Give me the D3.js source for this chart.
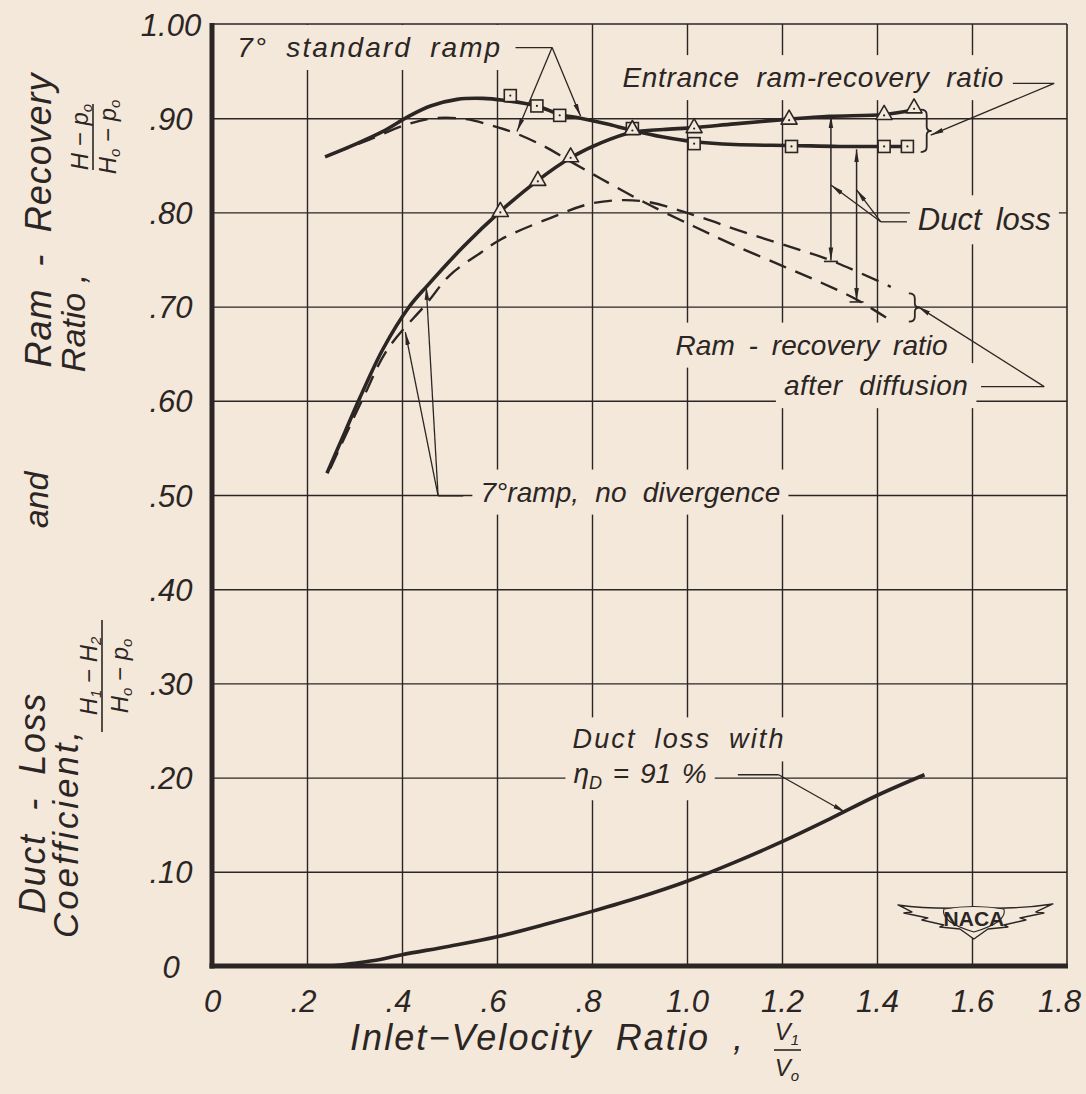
<!DOCTYPE html>
<html><head><meta charset="utf-8">
<script src="https://cdn.jsdelivr.net/npm/d3@7"></script>
<style>
html,body{margin:0;padding:0;background:#f4e8da;}
svg{display:block;}
text{font-family:"Liberation Sans", Arial, sans-serif; font-style:italic; fill:#2b2624;}
</style></head><body><svg id="c" width="1086" height="1094"></svg>
<script>
// ---------- axis ticks ----------
const xTickValues = [0, 0.2, 0.4, 0.6, 0.8, 1.0, 1.2, 1.4, 1.6, 1.8];
const xTickLabels = ["0", ".2", ".4", ".6", ".8", "1.0", "1.2", "1.4", "1.6", "1.8"];
const yTickValues = [0, 0.1, 0.2, 0.3, 0.4, 0.5, 0.6, 0.7, 0.8, 0.9, 1.0];
const yTickLabels = ["0", ".10", ".20", ".30", ".40", ".50", ".60", ".70", ".80", ".90", "1.00"];

// ---------- series: 7° standard ramp, entrance ram-recovery ratio (solid, squares) ----------
const stdEntranceX = [0.238, 0.30, 0.36, 0.414, 0.46, 0.516, 0.57, 0.614, 0.684, 0.732, 0.776, 0.83, 0.885, 0.95, 1.015, 1.10, 1.22, 1.32, 1.415, 1.464];
const stdEntranceY = [0.859, 0.872, 0.886, 0.902, 0.913, 0.920, 0.921, 0.919, 0.913, 0.904, 0.900, 0.894, 0.887, 0.880, 0.875, 0.872, 0.871, 0.870, 0.870, 0.870];
const stdSquareX = [0.628, 0.684, 0.732, 0.885, 1.015, 1.220, 1.415, 1.464];
const stdSquareY = [0.924, 0.913, 0.903, 0.889, 0.873, 0.870, 0.870, 0.870];

// ---------- series: 7° ramp, no divergence, entrance ram-recovery ratio (solid, triangles) ----------
const noDivEntranceX = [0.242, 0.28, 0.312, 0.36, 0.414, 0.453, 0.53, 0.607, 0.686, 0.755, 0.82, 0.885, 0.95, 1.015, 1.10, 1.215, 1.30, 1.415, 1.478];
const noDivEntranceY = [0.523, 0.567, 0.604, 0.655, 0.699, 0.722, 0.764, 0.801, 0.834, 0.858, 0.874, 0.885, 0.888, 0.890, 0.894, 0.899, 0.902, 0.904, 0.909];
const noDivTriangleX = [0.607, 0.686, 0.755, 0.885, 1.015, 1.215, 1.415, 1.478];
const noDivTriangleY = [0.801, 0.834, 0.859, 0.888, 0.890, 0.899, 0.904, 0.911];

// ---------- series: ram-recovery ratio after diffusion (dashed) ----------
const stdDiffusedX = [0.253, 0.33, 0.414, 0.47, 0.535, 0.59, 0.639, 0.70, 0.748, 0.818, 0.909, 1.015, 1.10, 1.197, 1.28, 1.359, 1.429];
const stdDiffusedY = [0.862, 0.877, 0.894, 0.900, 0.899, 0.892, 0.884, 0.870, 0.856, 0.836, 0.811, 0.785, 0.765, 0.744, 0.726, 0.707, 0.685];
const noDivDiffusedX = [0.249, 0.319, 0.37, 0.453, 0.50, 0.565, 0.607, 0.712, 0.804, 0.906, 1.015, 1.12, 1.239, 1.303, 1.429];
const noDivDiffusedY = [0.528, 0.604, 0.655, 0.704, 0.733, 0.757, 0.771, 0.794, 0.810, 0.812, 0.797, 0.779, 0.760, 0.749, 0.721];

// ---------- series: duct loss with eta_D = 91 % ----------
const ductLossX = [0.25, 0.30, 0.354, 0.40, 0.50, 0.60, 0.70, 0.80, 0.90, 1.00, 1.10, 1.20, 1.30, 1.40, 1.50];
const ductLossY = [0.000, 0.003, 0.007, 0.012, 0.021, 0.031, 0.044, 0.058, 0.073, 0.090, 0.110, 0.132, 0.156, 0.181, 0.203];

// ---------- duct-loss dimension arrows ----------
const dimX = [1.303, 1.357];
const dimTop = [0.903, 0.867];
const dimBottom = [0.749, 0.706];

// ---------- annotation texts (anchor in data units) ----------
const noteTexts = ["7° standard ramp", "Entrance ram-recovery ratio", "Duct loss", "Ram - recovery ratio", "after diffusion", "7°ramp, no divergence", "Duct loss with"];
const noteX = [0.053, 0.864, 1.486, 0.976, 1.204, 0.565, 0.759];
const noteY = [0.965, 0.933, 0.781, 0.649, 0.606, 0.493, 0.231];
const noteWidth = [263, 381, 133, 272, 184, 300, 211];
const noteSize = [28, 28, 31, 28, 28, 28, 27];

// ---------- leader lines (data units) ----------
const plainLeaders = [
  [[0.639, 0.975], [0.716, 0.975]],
  [[1.686, 0.937], [1.773, 0.937]],
  [[1.408, 0.790], [1.463, 0.790]],
  [[1.619, 0.615], [1.752, 0.615]],
  [[0.529, 0.499], [0.476, 0.499]],
  [[1.107, 0.203], [1.193, 0.203]]
];
const arrowLeaders = [
  [[0.716, 0.975], [0.642, 0.886]],
  [[0.716, 0.975], [0.776, 0.902]],
  [[1.773, 0.937], [1.513, 0.882]],
  [[1.408, 0.790], [1.303, 0.829]],
  [[1.408, 0.790], [1.357, 0.824]],
  [[1.752, 0.615], [1.486, 0.700]],
  [[0.476, 0.499], [0.407, 0.673]],
  [[0.476, 0.499], [0.451, 0.721]],
  [[1.193, 0.203], [1.334, 0.163]]
];
const braceX = [1.492, 1.467];
const braceTop = [0.909, 0.714];
const braceBottom = [0.864, 0.684];

// =====================================================
const ink = "#2b2624";
const paper = "#f4e8da";
const svg = d3.select("#c");
svg.append("rect").attr("width", 1086).attr("height", 1094).attr("fill", paper);

const x = d3.scaleLinear().domain([0, 1.8]).range([212, 1067]);
const y = d3.scaleLinear().domain([0, 1]).range([966, 24]);

// spread words (and a little the letters) to reach a target width, like the hand lettering
function fitWords(sel, target) {
  const n = sel.node();
  const fsz = parseFloat(sel.style("font-size"));
  const nat = n.getComputedTextLength();
  const str = n.textContent;
  const spaces = (str.match(/ /g) || []).length;
  const extra = target - nat;
  if (extra <= 0) return sel;
  const ws = spaces > 0 ? Math.min(extra / spaces, 0.3 * fsz) : 0;
  if (ws > 0) sel.style("word-spacing", ws + "px");
  const rem = extra - ws * spaces;
  if (rem > 0 && str.length > 1) sel.style("letter-spacing", (rem / (str.length - 1)) + "px");
  return sel;
}

const defs = svg.append("defs");
defs.append("marker").attr("id", "arr").attr("viewBox", "0 0 13 6")
  .attr("refX", 13).attr("refY", 3).attr("markerWidth", 13).attr("markerHeight", 6)
  .attr("markerUnits", "userSpaceOnUse").attr("orient", "auto-start-reverse")
  .append("path").attr("d", "M0,0.7 L13,3 L0,5.3 Z").attr("fill", ink);

const gGrid = svg.append("g");
const gMask = svg.append("g");
const gFrame = svg.append("g");
const gCurves = svg.append("g");
const gNotes = svg.append("g");

// grid
gGrid.append("g").attr("transform", `translate(0,${y(0)})`)
  .call(d3.axisBottom(x).tickValues(xTickValues.slice(1, -1)).tickSize(-(y(0) - y(1))).tickFormat(""))
  .call(g => g.select(".domain").remove())
  .selectAll("line").attr("stroke", ink).attr("stroke-width", 1.4);
gGrid.append("g").attr("transform", `translate(${x(0)},0)`)
  .call(d3.axisLeft(y).tickValues(yTickValues.slice(1, -1)).tickSize(-(x(1.8) - x(0))).tickFormat(""))
  .call(g => g.select(".domain").remove())
  .selectAll("line").attr("stroke", ink).attr("stroke-width", 1.4);

// frame
gFrame.append("line").attr("x1", x(0)).attr("x2", x(1.8)).attr("y1", y(1)).attr("y2", y(1)).attr("stroke", ink).attr("stroke-width", 1.6);
gFrame.append("line").attr("x1", x(1.8)).attr("x2", x(1.8)).attr("y1", y(1)).attr("y2", y(0)).attr("stroke", ink).attr("stroke-width", 1.6);
gFrame.append("line").attr("x1", x(0)).attr("x2", x(0)).attr("y1", y(1) - 1).attr("y2", y(0) + 2.5).attr("stroke", ink).attr("stroke-width", 5);
gFrame.append("line").attr("x1", x(0) - 2.5).attr("x2", x(1.8) + 1).attr("y1", y(0)).attr("y2", y(0)).attr("stroke", ink).attr("stroke-width", 5);

// tick labels
const xAx = svg.append("g").attr("transform", `translate(0,${y(0)})`)
  .call(d3.axisBottom(x).tickValues(xTickValues).tickSize(0).tickFormat((d, i) => xTickLabels[i]));
xAx.select(".domain").remove();
xAx.selectAll("text").attr("y", 46).attr("dy", 0)
  .attr("dx", (d, i) => xTickLabels[i].startsWith(".") ? -4 : (i === xTickLabels.length - 1 ? -8 : 0))
  .style("font-size", "31px").style("font-family", '"Liberation Sans", Arial, sans-serif').style("font-style", "italic").attr("fill", ink);

const yAx = svg.append("g").attr("transform", `translate(${x(0)},0)`)
  .call(d3.axisLeft(y).tickValues(yTickValues).tickSize(0).tickFormat((d, i) => yTickLabels[i]));
yAx.select(".domain").remove();
yAx.selectAll("text").attr("x", 171 - x(0)).attr("dy", "0.36em").attr("text-anchor", "middle")
  .style("font-size", "31px").style("font-family", '"Liberation Sans", Arial, sans-serif').style("font-style", "italic").attr("fill", ink);

// curves
const zip = (xs, ys) => xs.map((v, i) => [v, ys[i]]);
const line = d3.line().x(d => x(d[0])).y(d => y(d[1])).curve(d3.curveCatmullRom.alpha(0.5));
function curve(xs, ys, dashed, w) {
  gCurves.append("path").attr("d", line(zip(xs, ys))).attr("fill", "none").attr("stroke", ink)
    .attr("stroke-width", w).attr("stroke-linecap", "butt").attr("stroke-linejoin", "round")
    .attr("stroke-dasharray", dashed ? "18,10" : null);
}
curve(stdDiffusedX, stdDiffusedY, true, 2.4);
curve(noDivDiffusedX, noDivDiffusedY, true, 2.4);
curve(stdEntranceX, stdEntranceY, false, 3.6);
curve(noDivEntranceX, noDivEntranceY, false, 3.6);
curve(ductLossX, ductLossY, false, 3.6);

// markers
zip(stdSquareX, stdSquareY).forEach(p => {
  gCurves.append("rect").attr("x", x(p[0]) - 6).attr("y", y(p[1]) - 6).attr("width", 12).attr("height", 12)
    .attr("fill", paper).attr("stroke", ink).attr("stroke-width", 1.6);
  gCurves.append("circle").attr("cx", x(p[0])).attr("cy", y(p[1])).attr("r", 1.1).attr("fill", ink);
});
zip(noDivTriangleX, noDivTriangleY).forEach(p => {
  const cx = x(p[0]), cy = y(p[1]);
  gCurves.append("path").attr("d", `M${cx},${cy - 9} L${cx + 8},${cy + 5} L${cx - 8},${cy + 5} Z`)
    .attr("fill", paper).attr("stroke", ink).attr("stroke-width", 1.6).attr("stroke-linejoin", "round");
  gCurves.append("circle").attr("cx", cx).attr("cy", cy + 1).attr("r", 1.1).attr("fill", ink);
});

// duct loss dimension arrows
dimX.forEach((dx, i) => {
  gCurves.append("line").attr("x1", x(dx)).attr("x2", x(dx)).attr("y1", y(dimTop[i])).attr("y2", y(dimBottom[i]))
    .attr("stroke", ink).attr("stroke-width", 1.5).attr("marker-start", "url(#arr)").attr("marker-end", "url(#arr)");
  gCurves.append("line").attr("x1", x(dx) - 7).attr("x2", x(dx) + 7).attr("y1", y(dimBottom[i]) + 1).attr("y2", y(dimBottom[i]) + 1)
    .attr("stroke", ink).attr("stroke-width", 1.6);
});

// leaders
const straight = d3.line().x(d => x(d[0])).y(d => y(d[1]));
plainLeaders.forEach(l => gNotes.append("path").attr("d", straight(l)).attr("fill", "none").attr("stroke", ink).attr("stroke-width", 1.3));
arrowLeaders.forEach(l => gNotes.append("path").attr("d", straight(l)).attr("fill", "none").attr("stroke", ink).attr("stroke-width", 1.3).attr("marker-end", "url(#arr)"));

// braces
braceX.forEach((bx, i) => {
  const px = x(bx), t = y(braceTop[i]), b = y(braceBottom[i]), m = (t + b) / 2;
  gNotes.append("path")
    .attr("d", `M${px},${t} Q${px + 6},${t} ${px + 6},${t + 5} L${px + 6},${m - 4} Q${px + 6},${m} ${px + 11},${m} Q${px + 6},${m} ${px + 6},${m + 4} L${px + 6},${b - 5} Q${px + 6},${b} ${px},${b}`)
    .attr("fill", "none").attr("stroke", ink).attr("stroke-width", 1.8);
});

// annotation texts
const noteNodes = [];
noteTexts.forEach((t, i) => {
  const el = gNotes.append("text").attr("x", x(noteX[i])).attr("y", y(noteY[i]))
    .style("font-size", noteSize[i] + "px").text(t);
  fitWords(el, noteWidth[i]);
  noteNodes.push(el);
});
// eta_D = 91 %
const eta = gNotes.append("text").attr("x", x(0.761)).attr("y", y(0.194)).style("font-size", "28px");
eta.append("tspan").text("η");
eta.append("tspan").attr("dy", 6).style("font-size", "18px").text("D");
eta.append("tspan").attr("dy", -6).style("word-spacing", "3px").text("  =  91 %");
noteNodes.push(eta);

// paper patches behind annotation texts (interrupt grid like the drawing)
noteNodes.forEach(n => {
  const b = n.node().getBBox();
  gMask.append("rect").attr("x", b.x - 8).attr("y", b.y - 7).attr("width", b.width + 16).attr("height", b.height + 14).attr("fill", paper);
});

// axis titles
function rotText(px, py, str, size, len) {
  const t = svg.append("text").attr("transform", `translate(${px},${py}) rotate(-90)`).attr("text-anchor", "middle")
    .style("font-size", size + "px").text(str);
  if (len) fitWords(t, len);
  return t;
}
function rotRich(px, py, parts, size) {
  const t = svg.append("text").attr("transform", `translate(${px},${py}) rotate(-90)`).attr("text-anchor", "middle")
    .style("font-size", size + "px");
  parts.forEach(p => {
    if (p[1]) t.append("tspan").attr("dy", 4).style("font-size", (size * 0.62) + "px").text(p[0]);
    else t.append("tspan").attr("dy", p[2] || 0).text(p[0]);
  });
  return t;
}
rotText(51, 220, "Ram - Recovery", 36, 294);
rotText(85, 323, "Ratio ,", 34, 93);
rotRich(88, 137, [["H − p"], ["o", true], ["", false, -4]], 24);
svg.append("line").attr("x1", 93).attr("x2", 93).attr("y1", 104).attr("y2", 170).attr("stroke", ink).attr("stroke-width", 1.6);
rotRich(116, 137, [["H"], ["o", true], [" − p", false, -4], ["o", true]], 24);
rotText(48, 500, "and", 34);
rotText(45, 803, "Duct - Loss", 36, 220);
rotText(78, 833, "Coefficient,", 35, 207);
rotRich(97, 676, [["H"], ["1", true], [" − H", false, -4], ["2", true]], 24);
svg.append("line").attr("x1", 102).attr("x2", 102).attr("y1", 620).attr("y2", 732).attr("stroke", ink).attr("stroke-width", 1.6);
rotRich(128, 676, [["H"], ["o", true], [" − p", false, -4], ["o", true]], 24);

// x title
fitWords(svg.append("text").attr("x", 350).attr("y", 1050).style("font-size", "36px").text("Inlet−Velocity Ratio ,"), 393);
const v1 = svg.append("text").attr("x", 787).attr("y", 1040).attr("text-anchor", "middle").style("font-size", "24px");
v1.append("tspan").text("V"); v1.append("tspan").attr("dy", 5).style("font-size", "15px").text("1");
svg.append("line").attr("x1", 774).attr("x2", 801).attr("y1", 1050).attr("y2", 1050).attr("stroke", ink).attr("stroke-width", 1.6);
const v0 = svg.append("text").attr("x", 787).attr("y", 1076).attr("text-anchor", "middle").style("font-size", "24px");
v0.append("tspan").text("V"); v0.append("tspan").attr("dy", 5).style("font-size", "15px").text("o");

// NACA logo (decoration)
const logo = svg.append("g").attr("transform", `translate(${x(1.604)},${y(0.051)})`);
logo.append("path")
  .attr("d", "M-76,-13 C-40,-8 -20,-10 0,-10 C20,-10 40,-8 79,-14 L62,-6 L70,-5 L46,0 L52,2 L30,7 L34,9 L14,11 L0,21 L-14,11 L-34,9 L-30,7 L-52,2 L-46,0 L-70,-5 L-62,-6 Z")
  .attr("fill", paper).attr("stroke", ink).attr("stroke-width", 1.4).attr("stroke-linejoin", "round");
logo.append("path").attr("d", "M-30,-9 Q0,-14 30,-9 Q34,4 0,14 Q-34,4 -30,-9 Z").attr("fill", paper).attr("stroke", ink).attr("stroke-width", 1.1);
logo.append("text").attr("x", 0).attr("y", 8).attr("text-anchor", "middle")
  .style("font-size", "21px").style("font-style", "normal").style("font-weight", "bold").text("NACA");
</script></body></html>
